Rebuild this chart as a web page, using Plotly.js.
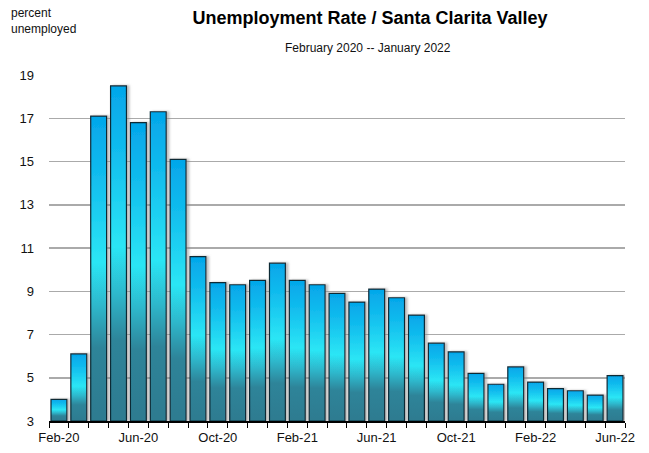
<!DOCTYPE html>
<html><head><meta charset="utf-8">
<script src="https://cdn.plot.ly/plotly-3.0.1.min.js"></script>
<style>body{margin:0;background:#fff}#chart{width:649px;height:453px}</style>
</head><body><div id="chart"></div>
<script>
const months = ["Feb-20","Mar-20","Apr-20","May-20","Jun-20","Jul-20","Aug-20","Sep-20","Oct-20","Nov-20","Dec-20","Jan-21","Feb-21","Mar-21","Apr-21","May-21","Jun-21","Jul-21","Aug-21","Sep-21","Oct-21","Nov-21","Dec-21","Jan-22","Feb-22","Mar-22","Apr-22","May-22","Jun-22"];
const rates = [4.0,6.1,17.1,18.5,16.8,17.3,15.1,10.6,9.4,9.3,9.5,10.3,9.5,9.3,8.9,8.5,9.1,8.7,7.9,6.6,6.2,5.2,4.7,5.5,4.8,4.5,4.4,4.2,5.1];
const labelEvery = 4;
const yTicks = [3,5,7,9,11,13,15,17,19];
const axisBase = 3;

const xIdx = months.map((m,i)=>i);
const tickvals = xIdx.filter(i=>i%labelEvery===0);
const ticktext = tickvals.map(i=>months[i]);
const font = "Liberation Sans, Arial, sans-serif";

const trace = {
  type:'bar', x:xIdx, y:rates.map(v=>v-axisBase), base:axisBase,
  marker:{color:'#1fc6ee', line:{color:'#0e2a36', width:1.2}},
  hoverinfo:'skip'
};
const layout = {
  width:649, height:453,
  margin:{l:49, r:24, t:75, b:32},
  paper_bgcolor:'#fff', plot_bgcolor:'#fff',
  bargap:0.2, showlegend:false,
  font:{family:font, size:13, color:'#111'},
  title:{text:'<b>Unemployment Rate / Santa Clarita Valley</b>', x:370/649, xanchor:'center', y:1-18/453, yanchor:'middle', yref:'container', font:{family:font, size:18, color:'#000'}},
  xaxis:{range:[-0.5, months.length-0.5], tickvals:tickvals, ticktext:ticktext, ticks:'', showgrid:false, zeroline:false,
    showline:true, linecolor:'#000', linewidth:1.5, ticklabelstandoff:4, tickfont:{family:font, size:13, color:'#111'},
    minor:{tick0:-0.5, dtick:1, ticks:'outside', ticklen:5, tickcolor:'#000', tickwidth:1, showgrid:false}},
  yaxis:{range:[3,19], tickvals:yTicks, ticktext:yTicks.map(String), showgrid:true, gridcolor:'#aaaaaa', gridwidth:1.5,
    zeroline:false, showline:false, ticks:'', ticklabelstandoff:14, tickfont:{family:font, size:13, color:'#111'}},
  annotations:[
    {text:'February 2020 -- January 2022', xref:'paper', yref:'paper', x:(368-49)/576, y:1, yshift:27, xanchor:'center', yanchor:'middle', showarrow:false, font:{family:font, size:12, color:'#111'}},
    {text:'percent<br>unemployed', xref:'paper', yref:'paper', x:0, xshift:-40, y:1, yshift:54, xanchor:'left', yanchor:'middle', align:'left', showarrow:false, font:{family:font, size:12, color:'#111'}}
  ]
};
Plotly.newPlot('chart',[trace],layout,{staticPlot:true}).then(gd=>{
  const svg = gd.querySelector('svg.main-svg');
  const ns='http://www.w3.org/2000/svg';
  let defs = svg.querySelector('defs');
  if(!defs){defs=document.createElementNS(ns,'defs');svg.insertBefore(defs,svg.firstChild);}
  const g = document.createElementNS(ns,'linearGradient');
  g.setAttribute('id','barGrad'); g.setAttribute('x1','0'); g.setAttribute('y1','0'); g.setAttribute('x2','0'); g.setAttribute('y2','1');
  [[0,'#04a6ea'],[0.2,'#12bdee'],[0.48,'#2ce6f5'],[0.62,'#2db8cc'],[0.76,'#2f8499'],[1,'#2e7b90']].forEach(([o,c])=>{
    const s=document.createElementNS(ns,'stop'); s.setAttribute('offset',o); s.setAttribute('stop-color',c); g.appendChild(s);
  });
  defs.appendChild(g);
  const f = document.createElementNS(ns,'filter');
  f.setAttribute('id','barShadow'); f.setAttribute('x','-20%'); f.setAttribute('y','-10%'); f.setAttribute('width','160%'); f.setAttribute('height','120%');
  const ds = document.createElementNS(ns,'feDropShadow');
  ds.setAttribute('dx','2.5'); ds.setAttribute('dy','0'); ds.setAttribute('stdDeviation','0.8'); ds.setAttribute('flood-color','#888'); ds.setAttribute('flood-opacity','0.55');
  f.appendChild(ds); defs.appendChild(f);
  gd.querySelectorAll('.bars .point path').forEach(p=>{
    p.style.fill='url(#barGrad)';
    p.setAttribute('filter','url(#barShadow)');
  });
});
</script></body></html>
